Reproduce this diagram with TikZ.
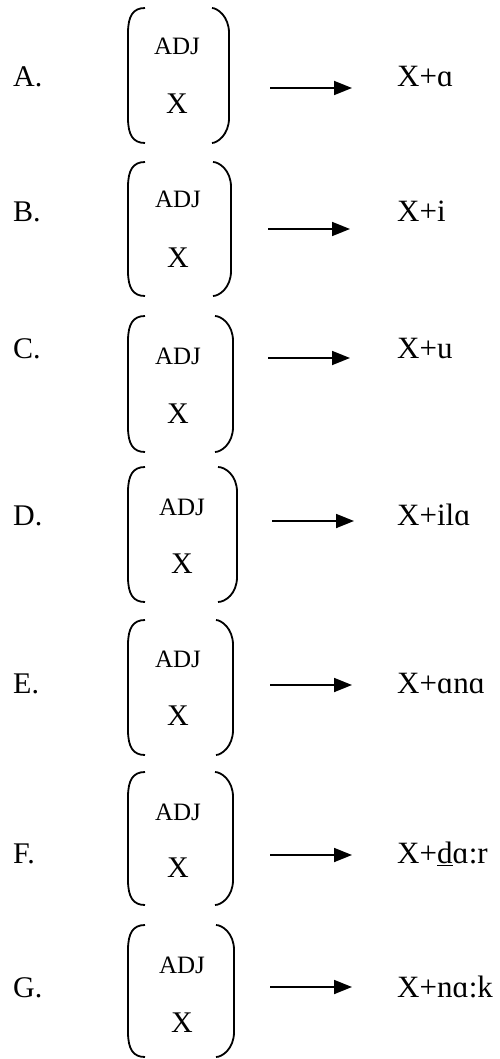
\documentclass[tikz,border=0pt]{standalone}
\usepackage{fontspec}
\setmainfont{Liberation Serif}
\usetikzlibrary{arrows.meta}
\begin{document}
\begin{tikzpicture}[x=1pt,y=-1pt,
  lab/.style={font=\fontsize{30}{30}\selectfont, anchor=base west, inner sep=0pt},
  adjtxt/.style={font=\fontsize{25}{25}\selectfont, anchor=base, inner sep=0pt},
  vartxt/.style={font=\fontsize{30}{30}\selectfont, anchor=base, inner sep=0pt},
  restxt/.style={font=\fontsize{31}{31}\selectfont, anchor=base west, inner sep=0pt},
  brk/.style={line width=1.8pt},
  arr/.style={line width=1.8pt, -{Triangle[length=18pt,width=14pt]}}]
\useasboundingbox (0,0) rectangle (500,1059);
\foreach \n/\lb/\rs/\bl/\ab/\xb/\cx/\tp/\bt/\rh/\rl/\ay/\ax/\ae in {
  A/{A.}/{X+ɑ}/87/55/114/177/8/143/212/229/88/270/352,
  B/{B.}/{X+i}/222/208/267/178/162/296/213/231/229/268/350,
  C/{C.}/{X+u}/358/364/423/178/316/452/215/233/358/268/350,
  D/{D.}/{X+ilɑ}/525/515/573/182/467/602/218/237/521/272/354,
  E/{E.}/{X+ɑnɑ}/693/667/725/178/620/755/216/233/685/270/352,
  F/{F.}/{X+\underline{d}ɑ:r}/863/820/877/178/772/905/215/233/855/270/352,
  G/{G.}/{X+nɑ:k}/997/973/1032/182/925/1057/216/234/987/270/352}
{
  \node[lab] (lab\n) at (13,\bl) {\lb};
  \node[adjtxt] (adj\n) at (\cx,\ab) {ADJ};
  \node[vartxt] (var\n) at (\cx,\xb) {X};
  \draw[brk] (145,\tp) .. controls (133,\tp) and (128,\tp+8) .. (128,\tp+25)
     -- (128,\bt-25) .. controls (128,\bt-8) and (133,\bt) .. (145,\bt);
  \draw[brk] (\rh,\tp) .. controls (\rl-12,\tp) and (\rl,\tp+8) .. (\rl,\tp+25)
     -- (\rl,\bt-25) .. controls (\rl,\bt-8) and (\rl-12,\bt) .. (\rh,\bt);
  \coordinate (s\n) at (\ax,\ay);
  \coordinate (e\n) at (\ae,\ay);
  \draw[arr] (s\n) -- (e\n);
  \node[restxt] (res\n) at (397,\bl) {\rs};
}
\end{tikzpicture}
\end{document}
